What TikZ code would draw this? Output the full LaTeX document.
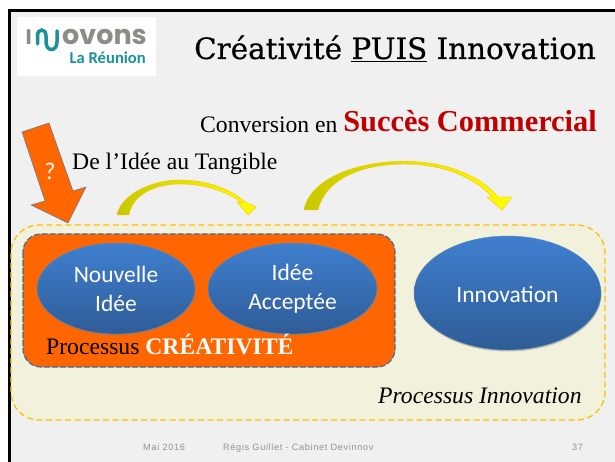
\documentclass[tikz,border=0pt]{standalone}
\usepackage{fontspec}
\setmainfont{Liberation Serif}
\newfontfamily\slabfont{DejaVu Serif}[FakeBold=0.5]
\newfontfamily\bodyfont{Carlito}
\newfontfamily\footfont{Liberation Sans}[LetterSpace=7]
\newfontfamily\logofont{Poppins}
\usetikzlibrary{shapes.geometric}
\usetikzlibrary{shadows}
\definecolor{slide}{HTML}{F0F0F0}
\definecolor{pale}{HTML}{F2F2DC}
\definecolor{amber}{HTML}{FFC000}
\definecolor{signal}{HTML}{FF6600}
\definecolor{edgeblue}{HTML}{3A6EA5}
\definecolor{deepred}{HTML}{C00000}
\definecolor{teal}{HTML}{1A919B}
\definecolor{logogrey}{HTML}{8F8C87}
\definecolor{blue1}{HTML}{3F7FCF}
\definecolor{blue2}{HTML}{2F5C97}
\definecolor{olivey}{HTML}{C8C800}

\begin{document}
\begin{tikzpicture}[x=1pt,y=-1pt,
    process/.style={
% The shape:
ellipse,
% The size:
inner sep=0pt,
% The border:
draw=edgeblue!80, thin,
top color=blue1, bottom color=blue2,
text=white, align=center,
font=\bodyfont\fontsize{23.5}{29}\selectfont,
execute at begin node={\rule{0pt}{19pt}},
drop shadow={shadow xshift=0.5pt,shadow yshift=-1.5pt,opacity=0.45},
},
    swoop/.style={
left color=olivey, right color=yellow,
draw=amber, thin,
},
    heading/.style={
inner sep=0pt, anchor=base west,
font=\fontsize{23.65}{27}\selectfont,
},
    foot/.style={
inner sep=0pt, anchor=base west, text=gray!85,
font=\footfont\fontsize{9.2}{10}\selectfont,
},
]
  \useasboundingbox (0,0) rectangle (615,462);
  \fill[white] (0,0) rectangle (615,462);
  \fill[slide] (9,10) rectangle (615,462);
  \draw[line width=3pt] (9.5,462) -- (9.5,10.5) -- (615,10.5);

  % logo
  \fill[white] (17,17) rectangle (156,76);
  \node[inner sep=0pt,anchor=base west,text=logogrey,font=\logofont\bfseries\fontsize{21}{21}\selectfont] (logoI) at (25.5,44.5) {I};
  \draw[teal,line width=3.5pt,line cap=round] (37.5,44) -- (37.5,36) .. controls (37.5,28) and (46,28) .. (46,36) -- (46,42) .. controls (46,52) and (57,52) .. (57,42) -- (57,31);
  \node[inner sep=0pt,anchor=base west,text=logogrey,text depth=0pt,font=\logofont\bfseries\fontsize{27}{27}\selectfont] (logoname) at (62,45) {ovons};
  \node[inner sep=0pt,anchor=base east,text=teal,font=\bodyfont\bfseries\fontsize{16.6}{17}\selectfont] (logoplace) at (146,63.5) {La Réunion};

  % headings
  \node[inner sep=0pt,anchor=base west,font=\slabfont\fontsize{29.4}{30}\selectfont] (title) at (194,59) {Créativité \underline{PUIS} Innovation};
  \node[heading] (conv) at (200,133) {Conversion en};
  \node[inner sep=0pt,anchor=base east,text=deepred,font=\bfseries\fontsize{30.4}{32}\selectfont] (success) at (597,132) {Succès Commercial};
  \node[heading] (tangible) at (72,170) {De l’Idée au Tangible};

  % panels
  \draw[fill=pale,draw=amber,line width=1.3pt,dash pattern=on 6pt off 3.5pt,rounded corners=28pt] (11,225) rectangle (605,420);
  \draw[fill=signal,draw=edgeblue,line width=1.2pt,dash pattern=on 6pt off 2pt,rounded corners=18pt] (23,234) rectangle (395,367);

  % curved arrows
  \draw[swoop] (117,215) .. controls (120,197) and (148,180) .. (180,180) .. controls (208,180) and (232,190) .. (245,202) -- (256,207) -- (248,215) -- (237,202) -- (242,203) .. controls (228,192) and (205,184) .. (180,184) .. controls (155,184) and (132,195) .. (129,215) -- cycle;
  \draw[swoop] (304,210) .. controls (309,180) and (355,161) .. (405,161.3) .. controls (445,161.5) and (480,175) .. (498,197) -- (512,197) -- (502,210) -- (487,197) -- (492,197) .. controls (475,178) and (445,164.5) .. (405,164) .. controls (360,164) and (325,180) .. (318,210) -- cycle;

  % red arrow
  \draw[fill=signal,draw=edgeblue,thin] (22,132) -- (49,123) -- (73,191) -- (86,187) -- (68,223) -- (31,205) -- (45,201) -- cycle;
  \node[text=white,inner sep=0pt,font=\bodyfont\fontsize{24}{24}\selectfont] (ask) at (50,171) {?};

  % processes
  \node[process,minimum width=158pt,minimum height=91pt] (idea) at (116,288.5) {Nouvelle\\Idée};
  \node[process,minimum width=169pt,minimum height=91pt] (accepted) at (292.5,288.5) {Idée\\Acceptée};
  \node[process,minimum width=187pt,minimum height=114pt] (innov) at (507.5,293) {Innovation};

  \node[heading] (creat) at (46,354) {Processus \textcolor{white}{\textbf{CRÉATIVITÉ}}};
  \node[heading] (procinnov) at (378,403) {\textit{Processus Innovation}};

  % footer
  \node[foot] (date) at (143,450) {Mai 2016};
  \node[foot] (author) at (223,450) {Régis Guillet - Cabinet Devinnov};
  \node[foot] (page) at (572,450) {37};

\end{tikzpicture}
\end{document}
